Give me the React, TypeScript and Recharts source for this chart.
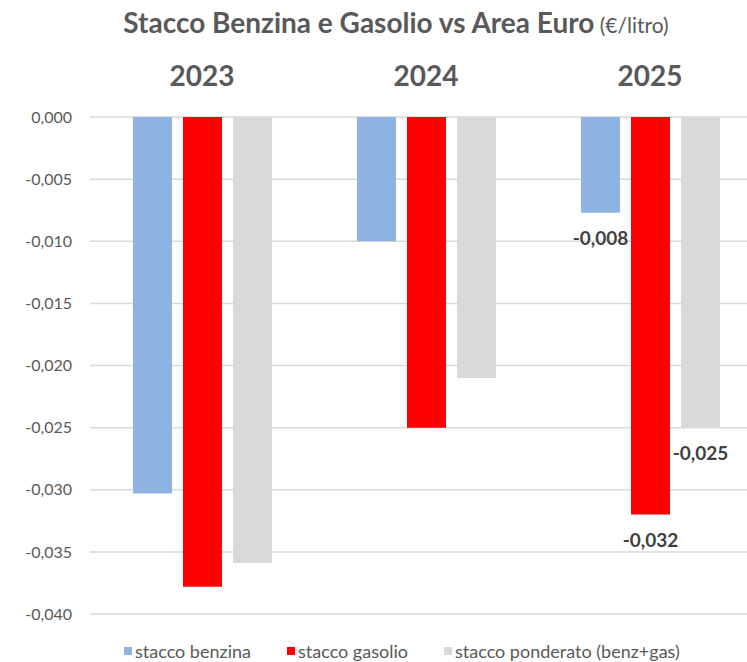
import React from 'react';
import { BarChart, Bar, XAxis, YAxis, CartesianGrid, Legend, LabelList } from 'recharts';

const years = ['2023', '2024', '2025'];
const benzina = [-0.0303, -0.01, -0.0077];
const gasolio = [-0.0378, -0.025, -0.032];
const ponderato = [-0.0359, -0.021, -0.025];
const yTicks = [0, -0.005, -0.01, -0.015, -0.02, -0.025, -0.03, -0.035, -0.04];
const labeledYears = ['2025'];
const seriesNames = ['stacco benzina', 'stacco gasolio', 'stacco ponderato (benz+gas)'];
const colors = ['#8EB4E3', '#FF0000', '#D9D9D9'];

const data = years.map((year, i) => {
  const show = labeledYears.includes(year);
  return {
    year,
    benzina: benzina[i],
    gasolio: gasolio[i],
    ponderato: ponderato[i],
    benzinaLabel: show ? benzina[i] : null,
    gasolioLabel: show ? gasolio[i] : null,
    ponderatoLabel: show ? ponderato[i] : null,
  };
});

const fmt = (v: number) => v.toFixed(3).replace('.', ',');
const FONT = 'Lato, "Open Sans", sans-serif';
const TXT = '#595959';

const renderValueLabel = (props: any) => {
  const { x, y, width, height, value } = props;
  if (value === null || value === undefined) return null;
  const bottom = Math.max(Number(y), Number(y) + Number(height));
  return (
    <text
      x={Number(x) + Number(width) / 2}
      y={bottom + 32}
      textAnchor="middle"
      fontFamily={FONT}
      fontWeight={700}
      fontSize={19}
      fill="#404040"
    >
      {fmt(Number(value))}
    </text>
  );
};

const itemWidths = [163, 157, 300];

const renderLegend = (props: any) => {
  const payload = props.payload || [];
  return (
    <div style={{ height: 48, display: 'flex', alignItems: 'flex-end', paddingLeft: 124, boxSizing: 'border-box', paddingBottom: 0 }}>
      {payload.map((entry: any, i: number) => (
        <div key={i} style={{ width: itemWidths[i], display: 'flex', alignItems: 'center', height: 22, fontFamily: FONT, fontSize: 18, color: TXT, whiteSpace: 'nowrap' }}>
          <span style={{ display: 'inline-block', width: 8, height: 8, background: entry.color, marginRight: 3 }} />
          <span>{entry.value}</span>
        </div>
      ))}
    </div>
  );
};

export default function App() {
  return (
    <div style={{ position: 'absolute', left: 0, top: 0, width: 747, height: 662, overflow: 'hidden', background: '#fff', fontFamily: FONT }}>
      <div style={{ position: 'absolute', top: 5, left: 0, width: 792, textAlign: 'center', color: TXT, lineHeight: '34px', whiteSpace: 'nowrap' }}>
        <span style={{ fontWeight: 700, fontSize: 28 }}>Stacco Benzina e Gasolio vs Area Euro</span>
        <span style={{ fontSize: 21 }}> (€/litro)</span>
      </div>
      <div style={{ position: 'absolute', left: 0, top: 0 }}>
        <BarChart
          width={770}
          height={662}
          data={data}
          margin={{ top: 0, right: 8, bottom: 0, left: 0 }}
          barSize={39}
          barGap={11}
        >
          <CartesianGrid vertical={false} stroke="#D9D9D9" strokeWidth={1.5} />
          <XAxis
            dataKey="year"
            orientation="top"
            height={117}
            axisLine={false}
            tickLine={false}
            tickSize={0}
            tickMargin={31}
            tick={{ fontFamily: FONT, fontSize: 28, fontWeight: 700, fill: TXT }}
          />
          <YAxis
            width={90}
            domain={[-0.04, 0]}
            ticks={yTicks}
            interval={0}
            axisLine={false}
            tickLine={false}
            tickSize={6}
            tickMargin={12}
            tickFormatter={fmt}
            tick={{ fontFamily: FONT, fontSize: 16, fill: TXT }}
          />
          <Legend verticalAlign="bottom" content={renderLegend} wrapperStyle={{ left: 0, width: 770, height: 48, bottom: 0 }} />
          <Bar dataKey="benzina" name={seriesNames[0]} fill={colors[0]} isAnimationActive={false}>
            <LabelList dataKey="benzinaLabel" content={renderValueLabel} />
          </Bar>
          <Bar dataKey="gasolio" name={seriesNames[1]} fill={colors[1]} isAnimationActive={false}>
            <LabelList dataKey="gasolioLabel" content={renderValueLabel} />
          </Bar>
          <Bar dataKey="ponderato" name={seriesNames[2]} fill={colors[2]} isAnimationActive={false}>
            <LabelList dataKey="ponderatoLabel" content={renderValueLabel} />
          </Bar>
        </BarChart>
      </div>
    </div>
  );
}
